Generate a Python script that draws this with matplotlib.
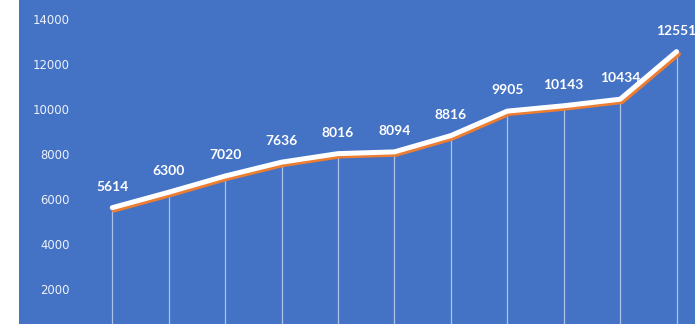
import numpy as np
from matplotlib import pyplot as plt
import matplotlib.patheffects as pe

# values
values = [5614, 6300, 7020, 7636, 8016, 8094, 8816, 9905, 10143, 10434, 12551]
yticks = [2000, 4000, 6000, 8000, 10000, 12000, 14000]

blue = '#4472C4'
orange = '#ED7D31'

fig = plt.figure(figsize=(6.95, 3.24), dpi=100, facecolor='white')
ax = fig.add_axes([19 / 695, 0, 676 / 695, 1])
ax.set_facecolor(blue)

x = np.arange(len(values))

# drop lines
ax.vlines(x, 0, values, colors='#B7CBEE', linewidth=0.9, alpha=0.9, zorder=2)

# white line with an orange shadow
ax.plot(x, values, color='white', linewidth=3.6, solid_capstyle='round',
        solid_joinstyle='round', zorder=4,
        path_effects=[pe.SimpleLineShadow(offset=(1.3, -1.7), shadow_color=orange,
                                          alpha=1.0, rho=1.0),
                      pe.Normal()])

for xi, v in zip(x, values):
    ax.annotate(str(v), (xi, v), xytext=(0, 15), textcoords='offset points',
                ha='center', va='center', color='white', fontsize=10,
                fontweight='bold', family=['Lato', 'DejaVu Sans'], zorder=5)

ax.set_xlim(-1.653, 10.327)
ax.set_ylim(444, 14844)

ax.set_yticks(yticks)
ax.set_yticklabels([str(t) for t in yticks])
ax.tick_params(axis='y', length=0, pad=-36.7, labelsize=8.4, labelcolor='#EEF2FA')
ax.set_xticks([])
for s in ax.spines.values():
    s.set_visible(False)

plt.savefig("out.png", dpi=100, facecolor='white')
